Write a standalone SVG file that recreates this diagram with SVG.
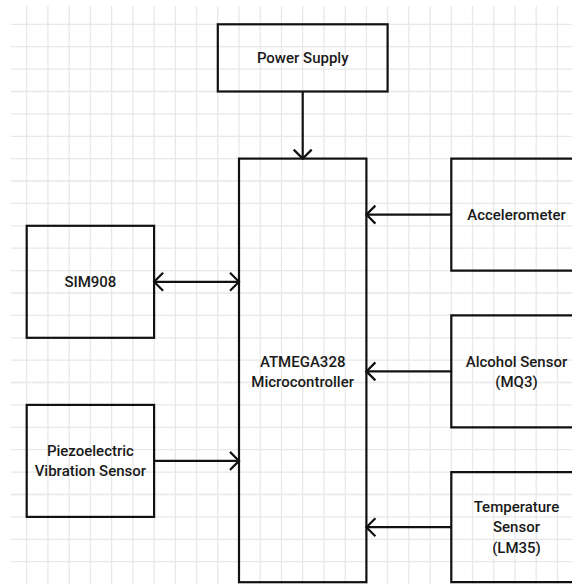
<svg xmlns="http://www.w3.org/2000/svg" width="572" height="584" viewBox="0 0 572 584">
<style>
.grid{stroke:#e8e8e8;stroke-width:1.3;fill:none}
.box{fill:none;stroke:#111;stroke-width:2.2}
.lbl{font-family:Roboto,"Liberation Sans",sans-serif;font-weight:500;font-size:15px;fill:#1a1a1a;text-anchor:middle}
.conn{stroke:#111;stroke-width:2.2;fill:none}
</style>
<defs>
<marker id="arr" markerUnits="userSpaceOnUse" markerWidth="24" markerHeight="24" refX="12" refY="12" orient="auto-start-reverse" viewBox="0 0 24 24">
<path d="M3,3 L12,12 L3,21" fill="none" stroke="#111" stroke-width="2.2"/>
</marker>
</defs>
<rect width="572" height="584" fill="#fff"/>
<path class="grid" d="M26.7,6V584M47.9,6V584M69.2,6V584M90.4,6V584M111.6,6V584M132.9,6V584M154.1,6V584M175.3,6V584M196.5,6V584M217.8,6V584M239,6V584M260.2,6V584M281.5,6V584M302.7,6V584M323.9,6V584M345.2,6V584M366.4,6V584M387.6,6V584M408.8,6V584M430.1,6V584M451.3,6V584M472.5,6V584M493.8,6V584M515,6V584M536.2,6V584M557.5,6V584M11,24.3H572M11,46.7H572M11,69.1H572M11,91.5H572M11,113.9H572M11,136.3H572M11,158.6H572M11,181H572M11,203.4H572M11,225.8H572M11,248.2H572M11,270.6H572M11,293H572M11,315.4H572M11,337.8H572M11,360.2H572M11,382.5H572M11,404.9H572M11,427.3H572M11,449.7H572M11,472.1H572M11,494.5H572M11,516.9H572M11,539.3H572M11,561.7H572"/>
<g id="power">
<rect class="box" x="217.8" y="24.3" width="169.8" height="67.2"/>
<text class="lbl" x="302.7" y="62.5">Power Supply</text>
</g>
<g id="mcu">
<rect class="box" x="239" y="158.6" width="127.4" height="423.6"/>
<text class="lbl" x="302.7" y="366.5">ATMEGA328</text>
<text class="lbl" x="302.7" y="387">Microcontroller</text>
</g>
<g id="accel">
<path class="box" d="M580,158.6H451.3V270.6H580"/>
<text class="lbl" x="516.5" y="219.5">Accelerometer</text>
</g>
<g id="alcohol">
<path class="box" d="M580,315.4H451.3V427.3H580"/>
<text class="lbl" x="516.5" y="366.5">Alcohol Sensor</text>
<text class="lbl" x="516.5" y="387">(MQ3)</text>
</g>
<g id="temp">
<path class="box" d="M580,472.1H451.3V582.2H580"/>
<text class="lbl" x="516.5" y="511.5">Temperature</text>
<text class="lbl" x="516.5" y="532">Sensor</text>
<text class="lbl" x="516.5" y="553">(LM35)</text>
</g>
<g id="sim">
<rect class="box" x="26.7" y="225.8" width="127.4" height="112"/>
<text class="lbl" x="90.4" y="286.5">SIM908</text>
</g>
<g id="piezo">
<rect class="box" x="26.7" y="404.9" width="127.4" height="112"/>
<text class="lbl" x="90.4" y="455.5">Piezoelectric</text>
<text class="lbl" x="90.4" y="475.5">Vibration Sensor</text>
</g>
<g id="connectors">
<line class="conn" x1="302.7" y1="91.5" x2="302.7" y2="158.6" marker-end="url(#arr)"/>
<line class="conn" x1="154.1" y1="281.8" x2="239" y2="281.8" marker-start="url(#arr)" marker-end="url(#arr)"/>
<line class="conn" x1="154.1" y1="460.9" x2="239" y2="460.9" marker-end="url(#arr)"/>
<line class="conn" x1="451.3" y1="214.6" x2="366.4" y2="214.6" marker-end="url(#arr)"/>
<line class="conn" x1="451.3" y1="371.4" x2="366.4" y2="371.4" marker-end="url(#arr)"/>
<line class="conn" x1="451.3" y1="527.2" x2="366.4" y2="527.2" marker-end="url(#arr)"/>
</g>
</svg>
